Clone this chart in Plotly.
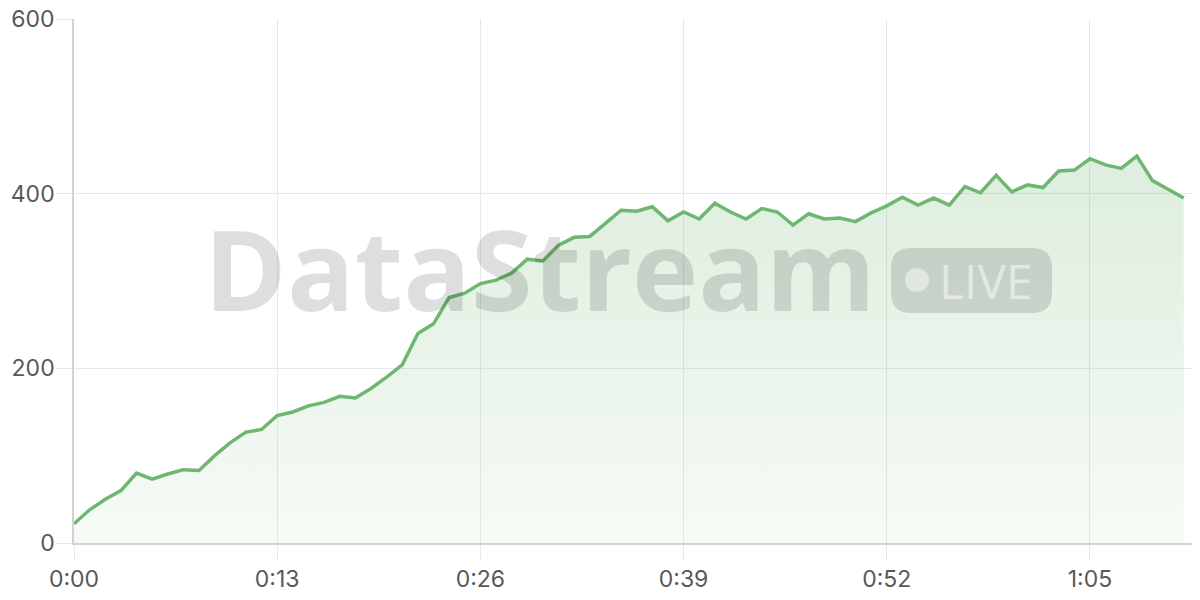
import plotly.graph_objects as go

# ---- data ----
seconds = list(range(72))
values = [22, 38, 50, 60, 80, 73, 79, 84, 83, 100, 115, 127, 130, 146, 150, 157, 161, 168, 166, 177,
          190, 204, 240, 251, 281, 286, 297, 301, 309, 325, 323, 341, 350, 351, 366, 381, 380, 385,
          369, 379, 371, 389, 379, 371, 383, 379, 364, 377, 371, 372, 368, 378, 386, 396, 387, 395,
          387, 408, 401, 421, 402, 410, 407, 426, 427, 440, 433, 429, 443, 415, 405, 395]
x_tick_vals = [0, 13, 26, 39, 52, 65]
x_tick_text = ["0:00", "0:13", "0:26", "0:39", "0:52", "1:05"]
y_tick_vals = [0, 200, 400, 600]

LINE = "rgb(110,183,112)"

# page has an 8px body margin: figure sized to fit the 1200x600 window exactly
OFF = 8
FW, FH = 1200 - 2 * OFF, 600 - 2 * OFF
L, T, H = 74 - OFF, 19 - OFF, 524
W = FW - L
B = FH - T - H

fig = go.Figure()
fig.add_trace(go.Scatter(
    x=seconds, y=values, mode="lines",
    line=dict(color=LINE, width=3.5),
    fill="tozeroy",
    fillgradient=dict(type="vertical", start=0, stop=450,
                      colorscale=[[0, "rgba(110,183,112,0.06)"], [1, "rgba(110,183,112,0.24)"]]),
    hoverinfo="skip", showlegend=False,
))


def px(xp):
    # page pixel -> paper
    return (xp - OFF - L) / W


def py(yp):
    return (T + H - (yp - OFF)) / H


# watermark
fig.add_annotation(xref="paper", yref="paper", x=px(540), y=py(267), xanchor="center", yanchor="middle",
                   text="DataStream", showarrow=False,
                   font=dict(family="Open Sans", size=112, weight=700, color="rgba(0,0,0,0.13)"))
bw, bh, r = 161, 65, 20
path = (f"M {r},0 L {bw-r},0 Q {bw},0 {bw},{r} L {bw},{bh-r} Q {bw},{bh} {bw-r},{bh} "
        f"L {r},{bh} Q 0,{bh} 0,{bh-r} L 0,{r} Q 0,0 {r},0 Z")
fig.add_shape(type="path", xref="paper", yref="paper", xsizemode="pixel", ysizemode="pixel",
              xanchor=px(891), yanchor=py(313), path=path,
              fillcolor="rgba(0,0,0,0.13)", line=dict(width=0), layer="above")
fig.add_shape(type="circle", xref="paper", yref="paper", xsizemode="pixel", ysizemode="pixel",
              xanchor=px(917), yanchor=py(280), x0=-12, x1=12, y0=-12, y1=12,
              fillcolor="rgba(255,255,255,0.45)", line=dict(width=0), layer="above")
fig.add_annotation(xref="paper", yref="paper", x=px(986), y=py(280), xanchor="center", yanchor="middle",
                   text="LIVE", showarrow=False,
                   font=dict(family="Open Sans", size=48, weight=500, color="rgba(255,255,255,0.5)"))

fig.update_layout(
    width=FW, height=FH,
    margin=dict(l=L, r=0, t=T, b=B),
    paper_bgcolor="white", plot_bgcolor="white",
    font=dict(family="Inter", size=23, color="#595959"),
    xaxis=dict(range=[0, W / 15.63], tickvals=x_tick_vals, ticktext=x_tick_text,
               showgrid=True, gridcolor="#e8e8e8", gridwidth=1,
               ticks="outside", ticklen=15, tickcolor="#e8e8e8",
               showline=True, linecolor="#d2d2d2", linewidth=1.5,
               zeroline=False, fixedrange=True, automargin=False, ticklabelstandoff=0,
               ticklabeloverflow="allow"),
    yaxis=dict(range=[0, 600], tickvals=y_tick_vals,
               showgrid=True, gridcolor="#e8e8e8", gridwidth=1,
               ticks="outside", ticklen=16, tickcolor="#e8e8e8",
               showline=True, linecolor="#d2d2d2", linewidth=1.5,
               zeroline=False, fixedrange=True, automargin=False, ticklabelstandoff=-3,
               ticklabeloverflow="allow"),
)

fig.write_html("out.html")
